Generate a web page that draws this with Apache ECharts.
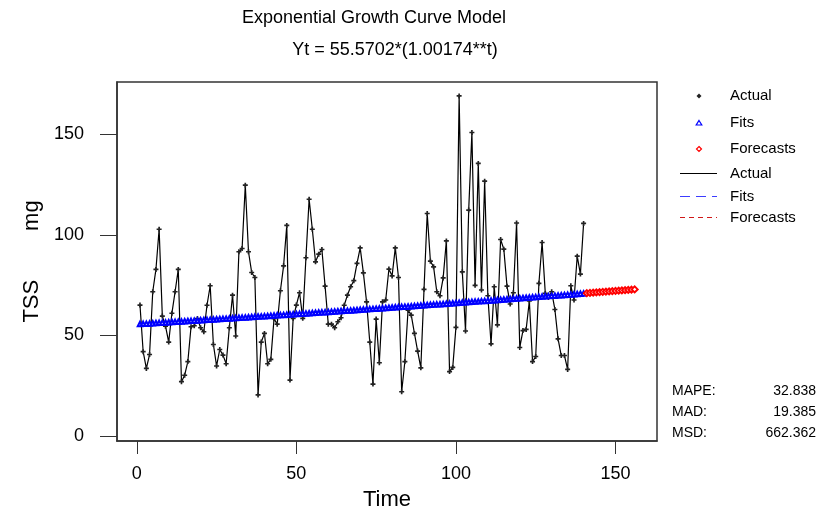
<!DOCTYPE html>
<html>
<head>
<meta charset="utf-8">
<script src="https://cdn.jsdelivr.net/npm/echarts@6/dist/echarts.min.js"></script>
<style>
  html, body { margin: 0; padding: 0; background: #fff; }
  #chart { width: 828px; height: 516px; }
</style>
</head>
<body>
<div id="chart"></div>
<script>
  // observed TSS values, t = 1..140
  var actual = [
    65.1, 41.9, 33.6, 40.5, 71.7, 82.8, 102.8, 59.6, 54.6, 46.7,
    61.0, 71.7, 82.8, 27.0, 30.2, 37.0, 54.3, 54.8, 58.4, 53.8,
    51.8, 65.0, 74.7, 45.5, 34.8, 43.0, 40.2, 35.9, 53.8, 70.0,
    49.7, 91.6, 93.2, 124.7, 91.6, 81.3, 78.8, 20.4, 46.7, 51.0,
    35.9, 38.1, 58.3, 55.6, 72.2, 84.6, 104.7, 27.8, 58.5, 65.1,
    71.2, 58.5, 88.6, 117.7, 102.8, 86.6, 90.4, 92.7, 74.5, 55.6,
    55.6, 53.8, 56.8, 58.8, 65.0, 70.0, 74.2, 77.2, 85.8, 93.5,
    81.1, 66.7, 46.7, 25.8, 58.1, 36.4, 66.7, 67.6, 83.0, 79.6,
    93.5, 78.8, 22.0, 37.0, 62.6, 60.1, 51.0, 42.2, 33.9, 72.9,
    110.6, 86.9, 84.1, 71.7, 69.7, 78.6, 97.0, 32.0, 34.1, 54.0,
    169.1, 81.6, 52.2, 112.3, 150.9, 74.9, 135.5, 72.6, 126.7, 69.7,
    45.8, 74.2, 55.2, 97.7, 92.9, 74.5, 65.6, 71.2, 105.9, 44.0,
    52.4, 53.0, 67.1, 37.0, 39.5, 75.9, 96.2, 70.9, 68.9, 71.7,
    62.9, 48.3, 40.0, 40.0, 33.1, 74.7, 67.6, 89.4, 80.5, 105.7
  ];
  // fitted trend, t = 1..140
  var fits = [
    55.67, 55.76, 55.86, 55.96, 56.06, 56.16, 56.25, 56.35, 56.45, 56.55,
    56.64, 56.74, 56.84, 56.94, 57.04, 57.14, 57.24, 57.34, 57.44, 57.54,
    57.64, 57.74, 57.84, 57.94, 58.04, 58.14, 58.24, 58.35, 58.45, 58.55,
    58.65, 58.75, 58.86, 58.96, 59.06, 59.16, 59.27, 59.37, 59.47, 59.57,
    59.68, 59.78, 59.89, 59.99, 60.10, 60.20, 60.31, 60.41, 60.51, 60.62,
    60.72, 60.83, 60.94, 61.04, 61.15, 61.26, 61.36, 61.47, 61.57, 61.68,
    61.79, 61.90, 62.00, 62.11, 62.22, 62.33, 62.44, 62.54, 62.65, 62.76,
    62.87, 62.98, 63.09, 63.20, 63.31, 63.42, 63.53, 63.64, 63.75, 63.86,
    63.97, 64.09, 64.20, 64.31, 64.42, 64.53, 64.65, 64.76, 64.87, 64.98,
    65.10, 65.21, 65.32, 65.44, 65.55, 65.67, 65.78, 65.89, 66.01, 66.12,
    66.24, 66.35, 66.47, 66.59, 66.70, 66.82, 66.93, 67.05, 67.17, 67.28,
    67.40, 67.52, 67.64, 67.75, 67.87, 67.99, 68.11, 68.22, 68.34, 68.46,
    68.58, 68.70, 68.82, 68.94, 69.06, 69.18, 69.30, 69.42, 69.54, 69.66,
    69.78, 69.91, 70.03, 70.15, 70.27, 70.39, 70.52, 70.64, 70.76, 70.88
  ];
  // forecasts, t = 141..156
  var forecasts = [
    71.01, 71.13, 71.26, 71.38, 71.50, 71.63, 71.75, 71.88, 72.00, 72.13,
    72.25, 72.38, 72.51, 72.63, 72.76, 72.88
  ];
  var forecastStart = 141;
  var xTicks = [0, 50, 100, 150];
  var yTicks = [0, 50, 100, 150];
  var accuracyNames = ['MAPE:', 'MAD:', 'MSD:'];
  var accuracyValues = ['32.838', '19.385', '662.362'];

  var font = 'Liberation Sans, Arial, sans-serif';

  function pairs(arr, start) {
    return arr.map(function (v, i) { return [start + i, v]; });
  }

  // small bold cross used by Minitab for observed points
  var plusPath = 'path://M2,0H4V2H6V4H4V6H2V4H0V2H2Z';

  var chart = echarts.init(document.getElementById('chart'));

  // legend + accuracy box drawn as graphic items (two "Actual"/"Fits" entries each)
  var g = [];
  var legendSym = [
    { y: 96, text: 'Actual' },
    { y: 123, text: 'Fits' },
    { y: 149, text: 'Forecasts' }
  ];
  g.push({ type: 'polygon', shape: { points: [[699, 93.5], [701.5, 96], [699, 98.5], [696.5, 96]] }, style: { fill: '#222' } });
  g.push({ type: 'polygon', shape: { points: [[699, 120.5], [701.8, 125], [696.2, 125]] }, style: { fill: '#fff', stroke: '#0000ff', lineWidth: 1.2 } });
  g.push({ type: 'polygon', shape: { points: [[699, 146.5], [701.5, 149], [699, 151.5], [696.5, 149]] }, style: { fill: '#fff', stroke: '#ff0000', lineWidth: 1.2 } });
  legendSym.forEach(function (r) {
    g.push({ type: 'text', x: 730, y: r.y, style: { text: r.text, font: '15px ' + font, fill: '#000', verticalAlign: 'middle' } });
  });
  var legendLine = [
    { y: 173.5, text: 'Actual', color: '#000', dash: null },
    { y: 196.5, text: 'Fits', color: '#3c3cff', dash: [10, 6] },
    { y: 217.5, text: 'Forecasts', color: '#d01818', dash: [5, 4] }
  ];
  legendLine.forEach(function (r) {
    g.push({ type: 'line', shape: { x1: 680, y1: r.y, x2: 717, y2: r.y }, style: { stroke: r.color, lineWidth: 1, lineDash: r.dash } });
    g.push({ type: 'text', x: 730, y: r.y, style: { text: r.text, font: '15px ' + font, fill: '#000', verticalAlign: 'middle' } });
  });
  accuracyNames.forEach(function (n, i) {
    var y = 391 + i * 21;
    g.push({ type: 'text', x: 672, y: y, style: { text: n, font: '14px ' + font, fill: '#000', verticalAlign: 'middle' } });
    g.push({ type: 'text', x: 816, y: y, style: { text: accuracyValues[i], font: '14px ' + font, fill: '#000', verticalAlign: 'middle', align: 'right' } });
  });

  var option = {
    animation: false,
    backgroundColor: '#fff',
    title: [
      {
        text: 'Exponential Growth Curve Model',
        left: 369, top: 4, textAlign: 'center',
        textStyle: { fontFamily: font, fontSize: 18, fontWeight: 'normal', color: '#000' }
      },
      {
        text: 'Yt = 55.5702*(1.00174**t)',
        left: 390, top: 36, textAlign: 'center',
        textStyle: { fontFamily: font, fontSize: 18, fontWeight: 'normal', color: '#000' }
      }
    ],
    grid: {
      left: 117, right: 171, top: 82, bottom: 75,
      show: true, borderColor: '#333', borderWidth: 1.5, backgroundColor: '#fff'
    },
    xAxis: {
      type: 'value',
      min: -6.2, max: 163,
      name: 'Time',
      nameLocation: 'middle',
      nameGap: 48,
      nameTextStyle: { fontFamily: font, fontSize: 22, color: '#000' },
      axisLine: { show: true, onZero: false, lineStyle: { color: '#333', width: 1.5 } },
      axisTick: { show: true, length: 13, customValues: xTicks, lineStyle: { color: '#333' } },
      axisLabel: { customValues: xTicks, margin: 24, fontFamily: font, fontSize: 18, color: '#000' },
      splitLine: { show: false }
    },
    yAxis: {
      type: 'value',
      min: -2.5, max: 176,
      name: 'TSS        mg',
      nameLocation: 'middle',
      nameRotate: 90,
      nameGap: 72,
      nameTextStyle: { fontFamily: font, fontSize: 22, color: '#000' },
      axisLine: { show: true, onZero: false, lineStyle: { color: '#333', width: 1.5 } },
      axisTick: { show: true, length: 17, customValues: yTicks, lineStyle: { color: '#333' } },
      axisLabel: { customValues: yTicks, margin: 33, fontFamily: font, fontSize: 18, color: '#000' },
      splitLine: { show: false }
    },
    graphic: g,
    series: [
      {
        name: 'Actual',
        type: 'line',
        data: pairs(actual, 1),
        symbol: plusPath,
        symbolSize: 5,
        showAllSymbol: true,
        lineStyle: { color: '#000', width: 1.2 },
        itemStyle: { color: '#222' },
        z: 3
      },
      {
        name: 'Fits',
        type: 'line',
        data: pairs(fits, 1),
        symbol: 'emptyTriangle',
        symbolSize: 4.5,
        showAllSymbol: true,
        lineStyle: { color: '#0000ff', width: 1, type: [8, 5] },
        itemStyle: { color: '#0000ff', borderWidth: 1 },
        z: 4
      },
      {
        name: 'Forecasts',
        type: 'line',
        data: pairs(forecasts, forecastStart),
        symbol: 'emptyDiamond',
        symbolSize: 6,
        showAllSymbol: true,
        lineStyle: { color: '#c01010', width: 1, type: [4, 3] },
        itemStyle: { color: '#ff0000', borderWidth: 1 },
        z: 4
      }
    ]
  };

  chart.setOption(option);
</script>
</body>
</html>
